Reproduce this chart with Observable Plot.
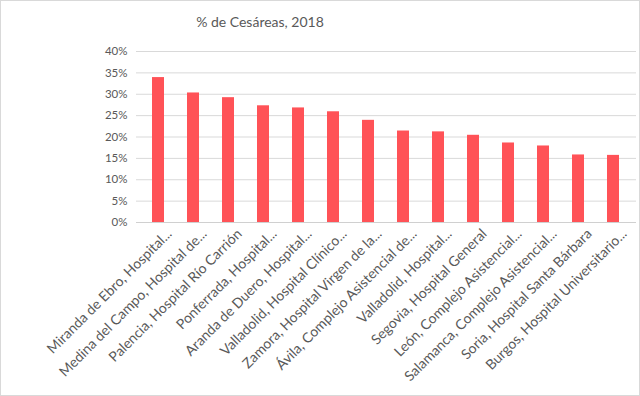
<!DOCTYPE html>
<html>
<head>
<meta charset="utf-8">
<script src="https://cdn.jsdelivr.net/npm/d3@7"></script>
<script src="https://cdn.jsdelivr.net/npm/@observablehq/plot@0.6"></script>
<style>
  body { margin: 0; background: #fff; }
  #wrap { position: relative; width: 640px; height: 396px; overflow: hidden; font-family: Lato, "Open Sans", sans-serif; }
  #title { position: absolute; left: 160px; width: 200px; top: 12px; text-align: center; font-size: 14px; color: #595959; line-height: 20px; }
  #chart { position: absolute; left: 0; top: 36px; }
  #border { position: absolute; left: 0; top: 0; width: 638px; height: 394px; border: 1px solid #d9d9d9; pointer-events: none; }
</style>
</head>
<body>
<div id="wrap">
  <div id="title">% de Cesáreas, 2018</div>
  <div id="chart"></div>
  <div id="border"></div>
</div>
<script>
const hospitals = [
  "Miranda de Ebro, Hospital...",
  "Medina del Campo, Hospital de...",
  "Palencia, Hospital Río Carrión",
  "Ponferrada, Hospital...",
  "Aranda de Duero, Hospital...",
  "Valladolid, Hospital Clínico...",
  "Zamora, Hospital Virgen de la...",
  "Ávila, Complejo Asistencial de...",
  "Valladolid, Hospital...",
  "Segovia, Hospital General",
  "León, Complejo Asistencial...",
  "Salamanca, Complejo Asistencial...",
  "Soria, Hospital Santa Bárbara",
  "Burgos, Hospital Universitario..."
];
const cesareas = [0.339, 0.303, 0.292, 0.273, 0.268, 0.259, 0.239, 0.214, 0.212, 0.204, 0.186, 0.179, 0.158, 0.157];
const yTicks = [0, 0.05, 0.10, 0.15, 0.20, 0.25, 0.30, 0.35, 0.40];

const data = hospitals.map((h, i) => ({hospital: h, value: cesareas[i]}));

const chart = Plot.plot({
  width: 640,
  height: 360,
  marginTop: 15,
  marginBottom: 174,
  marginLeft: 136,
  marginRight: 4,
  style: {fontFamily: "Lato, 'Open Sans', sans-serif", fontSize: "11.5px", color: "#595959", overflow: "visible"},
  x: {domain: hospitals, paddingInner: 0.645, paddingOuter: 0.3225, label: null, axis: null},
  y: {domain: [0, 0.4], ticks: yTicks, tickFormat: d => Math.round(d * 100) + "%", label: null, tickSize: 0, tickPadding: 9},
  marks: [
    Plot.gridY(yTicks, {stroke: "#d9d9d9", strokeOpacity: 1}),
    Plot.barY(data, {x: "hospital", y: "value", fill: "#ff5257"}),
    Plot.ruleY([0], {stroke: "#d0d0d0"}),
    Plot.axisX({tickSize: 0, tickRotate: -45, tickPadding: 9, dx: 11, fontSize: 14, label: null})
  ]
});
chart.querySelectorAll("text").forEach(t => t.setAttribute("fill", "#595959"));
document.getElementById("chart").appendChild(chart);
</script>
</body>
</html>
